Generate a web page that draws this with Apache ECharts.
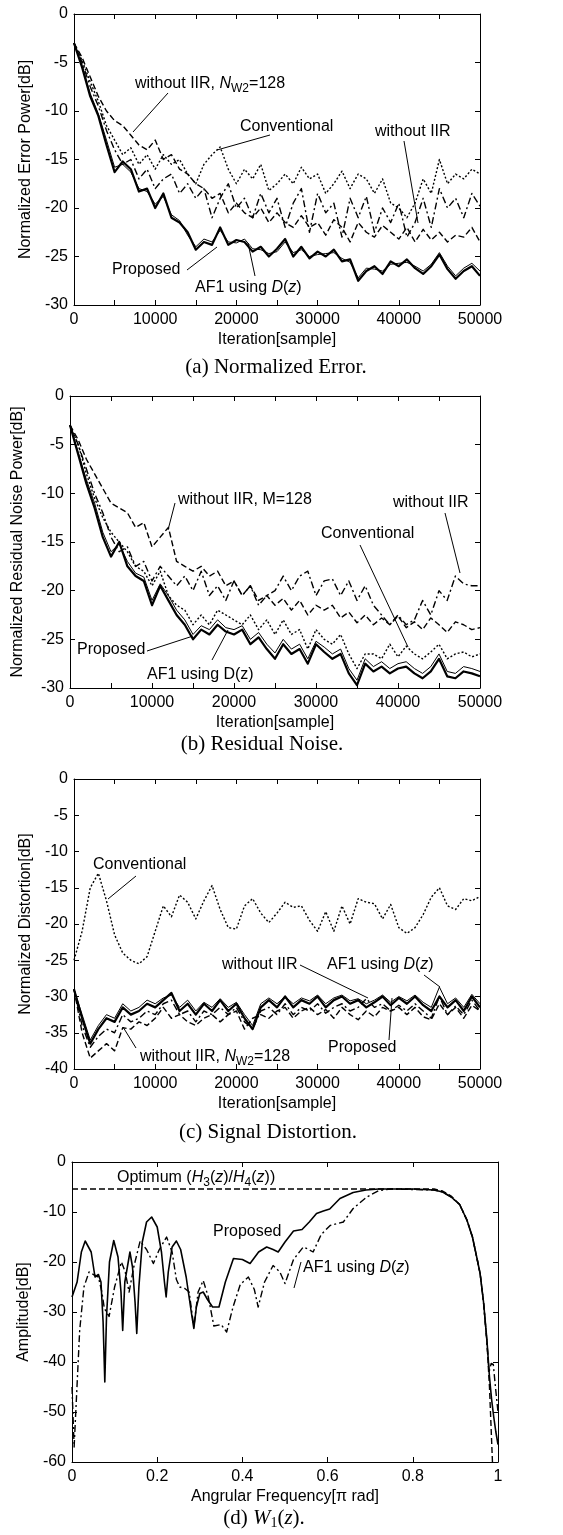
<!DOCTYPE html>
<html><head><meta charset="utf-8">
<script src="https://cdn.jsdelivr.net/npm/echarts@6/dist/echarts.min.js"></script>
<style>html,body{margin:0;padding:0;background:#fff}#c{width:563px;height:1535px}</style>
</head><body><div id="c"></div><script>
// ---------- data ----------
const iteration = [0,1000,2000,3000,4000,5000,6000,7000,8000,9000,10000,11000,12000,13000,14000,15000,16000,17000,18000,19000,20000,21000,22000,23000,24000,25000,26000,27000,28000,29000,30000,31000,32000,33000,34000,35000,36000,37000,38000,39000,40000,41000,42000,43000,44000,45000,46000,47000,48000,49000,50000];

// (a) Normalized error power [dB]
const errProposed = [-3,-5.5,-8.5,-10.5,-13.5,-16.3,-15.2,-16,-18.3,-18,-20,-18.5,-21,-21.5,-22.5,-24.3,-23.5,-23.8,-22,-23.8,-23.3,-23.5,-24.5,-24,-25,-24.2,-23.2,-25,-24,-25.2,-24.5,-25,-24.3,-25.5,-25.3,-27.5,-26.5,-26,-26.8,-25.5,-26,-25.3,-26.2,-26.8,-26,-24.8,-26.3,-27.3,-26.5,-26,-27];
const errAF1 = [-3,-5.3,-8.2,-10.3,-13,-15.8,-15.5,-16.3,-18,-18.3,-19.6,-18.8,-20.7,-21.3,-22.8,-24,-23.2,-23.5,-22.3,-23.5,-23.6,-23.2,-24.2,-24.3,-24.7,-24.5,-23.5,-24.6,-24.3,-25,-24.8,-24.7,-24.6,-25.2,-25.6,-27.2,-26.2,-26.3,-26.5,-25.8,-25.7,-25.6,-26,-26.5,-25.8,-24.6,-26,-27,-26.2,-25.7,-26.5];
const errConventional = [-3,-4.8,-7,-9,-11.5,-13,-14.5,-13.8,-15.5,-14.5,-16,-14.5,-15.5,-15,-16.5,-17.5,-15.5,-14.5,-13.7,-16,-17.5,-16,-17,-15.5,-18.2,-17.5,-16.5,-17.5,-15.8,-17,-16.5,-18.5,-17.5,-16.2,-18,-16.5,-17,-18.5,-17,-19.5,-20,-21,-19.5,-17,-18.5,-15,-17.5,-16.5,-17,-16,-16.5];
const errWithoutIIR = [-3,-5,-7.5,-9.5,-12,-14,-15.5,-15,-17,-16,-18,-17,-16.5,-18.5,-17.5,-19,-18,-21,-19,-17.5,-20,-19,-21,-18.5,-20.5,-19,-22,-19.5,-18,-22.5,-18.5,-20.5,-19.5,-23,-19,-21,-18.8,-22.5,-20,-21.5,-19.5,-23,-21.5,-19,-22,-18,-20,-19,-21,-18.5,-19.8];
const errWithoutIIR128 = [-3,-4.5,-6.5,-8.5,-10,-11,-11.5,-12.5,-13.5,-14,-13,-15,-14.5,-16,-16.5,-17.5,-18,-19,-18.5,-20.5,-19.5,-20.5,-21,-20,-21.5,-20.5,-21.5,-22,-20.8,-22,-21.5,-22.8,-21.2,-22,-23.5,-21.5,-22.5,-23,-21.8,-22.5,-23.2,-22,-23.5,-22.2,-23.3,-22.5,-23.5,-22.8,-23,-22,-23.5];

// (b) Normalized residual noise power [dB]
const resProposed = [-3,-6,-9,-11.5,-14.5,-16.5,-15,-17.5,-18.5,-19,-21.5,-19.5,-21,-22.5,-23.5,-25,-24,-24.5,-23.5,-24.2,-24.5,-24,-25.5,-24.8,-26,-27,-25.5,-26.5,-26,-27.5,-25.5,-26.3,-27,-26.5,-28.5,-29.7,-27.5,-28.3,-27.8,-28.5,-28,-27.8,-28.5,-29,-28.3,-27,-28.8,-29,-28.3,-28.5,-28.8];
const resAF1 = [-3,-5.8,-8.6,-11,-14,-16,-15.2,-17,-18.2,-18.6,-21,-19.3,-20.5,-22,-23,-24.5,-23.6,-24,-23,-23.8,-24,-23.6,-25,-24.3,-25.5,-26.4,-25,-26,-25.5,-27,-25.2,-25.8,-26.5,-26,-28,-29.2,-27,-27.8,-27.3,-28,-27.5,-27.3,-28,-28.5,-27.8,-26.5,-28.3,-28.5,-27.8,-28,-28.3];
const resConventional = [-3,-5,-8,-10.5,-12.5,-14,-15,-16,-17.5,-18,-19.5,-18,-20.5,-21.5,-22,-23.5,-22.5,-23.5,-22,-22.5,-23,-23.5,-22.5,-24,-23,-24.5,-23,-24.5,-24,-26,-24,-25,-25.5,-24.5,-26.5,-28,-26.5,-26.5,-27,-25.5,-26.8,-25.7,-26.5,-27,-26.3,-25.5,-27,-26.5,-26.3,-26.8,-26.5];
const resWithoutIIR = [-3,-5,-7.5,-10,-12,-14.5,-16,-15.5,-17.5,-17,-19,-17.5,-18.5,-19.5,-18.5,-20,-18,-20.5,-19.5,-21,-19,-20.5,-19.5,-21.5,-20.5,-20,-18.5,-20,-18.5,-18,-20.5,-19,-18.8,-20.5,-19,-21,-19.5,-21.5,-22.5,-23.5,-22.5,-23.5,-23,-21,-22.5,-20,-21,-18.5,-19.3,-19.5,-19.5];
const resWithoutIIR128 = [-3,-4.5,-6.5,-8,-9.5,-11,-11.5,-12,-13.5,-13,-15.5,-14.5,-13.5,-17,-17.5,-18,-17.5,-18.5,-18,-19.5,-19,-20.5,-19.5,-21,-20.5,-21.5,-20.8,-22,-21,-22.5,-21.5,-22,-21.5,-22.8,-22.2,-23.3,-22.5,-23.5,-22.8,-23.5,-22.6,-23.8,-23.2,-24,-22.8,-23.5,-24.3,-23.2,-23.5,-24,-23.8];

// (c) Normalized distortion [dB]
const disProposed = [-29,-33,-36.5,-34.5,-33,-33.5,-31.5,-32.5,-32,-31,-31.5,-30.5,-29.5,-32,-31,-32.5,-31,-32,-30.5,-32,-31,-33,-34.5,-31.5,-30.5,-31.5,-30,-31.5,-30.5,-31,-30,-31.5,-30.5,-30,-31,-30.5,-31.5,-30.8,-30,-31.2,-30.2,-31,-30,-31.2,-32,-30,-31.5,-30.5,-32,-30,-31.5];
const disAF1 = [-29,-32.5,-36,-34,-32.5,-33,-31,-32,-31.5,-30.5,-31,-30.2,-29.8,-31.5,-30.5,-32,-30.8,-31.5,-30.3,-31.5,-30.8,-32.5,-34,-31,-30.2,-31,-30,-31,-30.2,-30.6,-29.8,-31,-30.2,-29.8,-30.6,-30.3,-31,-30.5,-29.8,-30.8,-30,-30.6,-29.8,-30.8,-31.5,-28.7,-31,-30.2,-31.5,-29.7,-31];
const disConventional = [-25,-21,-15,-13,-16.8,-21.5,-24,-25,-25.5,-24.5,-21,-17.5,-19,-16,-17,-19.3,-16.8,-14.7,-18,-20.5,-20.7,-17.5,-16.5,-18.5,-19.8,-18.5,-17,-17.7,-17.5,-19.5,-21,-18.3,-21,-17.5,-20,-16.5,-17,-17.2,-19.3,-17.3,-20.5,-21.3,-20.5,-18.7,-16.3,-15,-17.5,-18,-16.5,-16.8,-16.2];
const disWithoutIIR = [-29,-34,-37,-35.5,-34.5,-35,-32.5,-33.5,-33,-32,-32.5,-31,-30.5,-32.5,-32,-33.5,-32,-32.5,-31.5,-32.5,-31.5,-33.5,-34.5,-32,-31.5,-32.5,-31,-32.5,-31.5,-32,-31,-32.3,-31.5,-31,-32,-31.5,-30.3,-31.5,-31,-32,-31.2,-32,-31,-32,-33,-30,-32.5,-31.3,-32.5,-30.5,-32];
const disWithoutIIR128 = [-29,-35,-38.5,-37.5,-36.5,-37.5,-34.3,-34.5,-33.5,-34,-33,-31.5,-33,-32.5,-33.5,-34,-33,-32.5,-33.5,-32.5,-32,-34.5,-33,-32.5,-33,-32,-31.5,-33,-32,-31.5,-32.5,-31.8,-33,-31.5,-32.5,-33.2,-32,-32.8,-31.5,-32,-31.5,-32.5,-31.5,-32.8,-33.2,-31,-32.5,-31.5,-33,-31.2,-32];

// (d) Amplitude of W1(z) [dB] vs angular frequency [pi rad]
const freqProposed = [0,0.012,0.022,0.031,0.045,0.054,0.062,0.068,0.073,0.077,0.081,0.088,0.098,0.108,0.115,0.119,0.124,0.136,0.142,0.148,0.152,0.157,0.165,0.175,0.187,0.2,0.21,0.217,0.221,0.226,0.235,0.245,0.255,0.268,0.28,0.286,0.292,0.3,0.308,0.318,0.33,0.345,0.36,0.379,0.4,0.418,0.438,0.457,0.472,0.484,0.5,0.52,0.54,0.557,0.574,0.59,0.605,0.629,0.66,0.69,0.72,0.8,0.85,0.87,0.89,0.91,0.927,0.94,0.95,0.958,0.966,0.974,0.98,0.985,0.99,0.995,1];
const ampProposed = [-27,-24,-18,-15.8,-18,-23,-22.5,-24,-32,-44,-31,-20,-15.7,-19,-26,-33.7,-24,-18,-21,-28,-34.3,-25,-16,-12,-11,-13,-18,-24,-27,-22,-17,-15.8,-17.5,-23,-30,-33.3,-29,-26.3,-26,-27.5,-29,-29,-24,-19.3,-19.5,-20.3,-18,-17,-17.5,-18,-16,-13.8,-13.5,-12,-10.3,-9.8,-9.4,-7.3,-6.1,-5.6,-5.4,-5.4,-5.6,-6,-7,-8.5,-11.6,-15,-19,-22.3,-28,-35.6,-43,-47.5,-51,-54,-56.5];
const freqAF1 = [0,0.005,0.01,0.018,0.028,0.04,0.05,0.062,0.07,0.076,0.087,0.1,0.116,0.125,0.134,0.145,0.16,0.175,0.191,0.205,0.222,0.235,0.245,0.253,0.265,0.275,0.286,0.296,0.308,0.32,0.333,0.35,0.363,0.378,0.395,0.414,0.428,0.437,0.452,0.472,0.488,0.5,0.52,0.543,0.556,0.566,0.585,0.606,0.637,0.66,0.692,0.72,0.75,0.85,0.87,0.89,0.91,0.927,0.94,0.95,0.958,0.966,0.974,0.979,0.984,0.989,0.994,1];
const ampAF1 = [-45,-57,-48,-33.7,-25,-22,-22.5,-23,-26,-29.3,-30.9,-25,-20,-22,-26,-21,-15.8,-17.5,-20.3,-17.5,-15,-18,-23.5,-25,-25.3,-26,-33,-26,-23.7,-27,-32.8,-32.5,-34,-29,-24.5,-23,-25.5,-29,-24,-20.7,-22,-24.3,-19.5,-17,-17.5,-18,-14.5,-12.7,-12,-9.3,-7,-5.7,-5.4,-5.6,-6,-7,-8.5,-11.6,-15,-19,-22.3,-28,-36,-42,-40.3,-40.5,-45,-50];
const freqOptimum = [0,0.85,0.87,0.89,0.91,0.927,0.94,0.95,0.958,0.966,0.974,0.98,0.987];
const ampOptimum = [-5.4,-5.4,-5.8,-6.8,-8.5,-11.6,-15,-19,-22.3,-28,-36,-45,-60];

const iterTicks = [0,10000,20000,30000,40000,50000];

// ---------- chart ----------
const FONT = 'Liberation Sans';
const chart = echarts.init(document.getElementById('c'), null, {renderer:'canvas'});
const zip = (xs, ys) => xs.map((x,i)=>[x, ys[i]]);

const grids = [
  {left:74, top:14, width:406, height:291},
  {left:70, top:396, width:410, height:292},
  {left:74, top:779, width:406, height:290},
  {left:72, top:1162, width:426, height:300}
];
const lineAx = {show:true, onZero:false, lineStyle:{color:'#000', width:1}};
const tickIn = {show:true, inside:true, length:5, lineStyle:{color:'#000', width:1}};
const lbl = {fontFamily:FONT, fontSize:16, color:'#000'};

const xAxis = [], yAxis = [];
function addAxes(g, xmin, xmax, xint, xfmt, xname, ymin, ymax, yint, yname, ygap){
  xAxis.push({type:'value', gridIndex:g, min:xmin, max:xmax, interval:xint, position:'bottom',
    axisLine:lineAx, axisTick:tickIn, splitLine:{show:false},
    axisLabel:Object.assign({margin:7, formatter:xfmt, showMinLabel:true, showMaxLabel:true}, lbl),
    name:xname, nameLocation:'middle', nameGap:27, nameTextStyle:lbl});
  xAxis.push({type:'value', gridIndex:g, min:xmin, max:xmax, interval:xint, position:'top',
    axisLine:lineAx, axisTick:tickIn, splitLine:{show:false}, axisLabel:{show:false}});
  yAxis.push({type:'value', gridIndex:g, min:ymin, max:ymax, interval:yint, position:'left',
    axisLine:lineAx, axisTick:tickIn, splitLine:{show:false},
    axisLabel:Object.assign({margin:6}, lbl),
    name:yname, nameLocation:'middle', nameGap:ygap, nameRotate:90, nameTextStyle:lbl});
  yAxis.push({type:'value', gridIndex:g, min:ymin, max:ymax, interval:yint, position:'right',
    axisLine:lineAx, axisTick:tickIn, splitLine:{show:false}, axisLabel:{show:false}});
}
const iterFmt = v => iterTicks.indexOf(v) >= 0 ? String(v) : '';
addAxes(0, 0, 50000, 5000, iterFmt, 'Iteration[sample]', -30, 0, 5, 'Normalized Error Power[dB]', 38);
addAxes(1, 0, 50000, 5000, iterFmt, 'Iteration[sample]', -30, 0, 5, 'Normalized Residual Noise Power[dB]', 44);
addAxes(2, 0, 50000, 5000, iterFmt, 'Iteration[sample]', -40, 0, 5, 'Normalized Distortion[dB]', 38);
addAxes(3, 0, 1, 0.2, v => String(+v.toFixed(1)), 'Angrular Frequency[\u03c0 rad]', -60, 0, 10, 'Amplitude[dB]', 38);

const STY = {
  solid:  {type:'solid', width:2.2},
  thin:   {type:'solid', width:1},
  dotted: {type:[2,2], width:1.4},
  dashed: {type:[6,3], width:1.4},
  dashdot:{type:[7,3,2,3], width:1.4}
};
function ser(g, xs, ys, sty, name, z){
  return {type:'line', name:name, xAxisIndex:2*g, yAxisIndex:2*g, data:zip(xs, ys),
    showSymbol:false, symbol:'none', silent:true, z:z||2,
    lineStyle:Object.assign({color:'#000', cap:'butt', join:'round'}, sty)};
}
const series = [
  ser(0, iteration, errConventional, STY.dotted, 'Conventional'),
  ser(0, iteration, errWithoutIIR, STY.dashdot, 'without IIR'),
  ser(0, iteration, errWithoutIIR128, STY.dashed, 'without IIR, NW2=128'),
  ser(0, iteration, errProposed, STY.solid, 'Proposed', 3),
  ser(0, iteration, errAF1, STY.thin, 'AF1 using D(z)', 4),

  ser(1, iteration, resConventional, STY.dotted, 'Conventional'),
  ser(1, iteration, resWithoutIIR, STY.dashdot, 'without IIR'),
  ser(1, iteration, resWithoutIIR128, STY.dashed, 'without IIR, M=128'),
  ser(1, iteration, resProposed, STY.solid, 'Proposed', 3),
  ser(1, iteration, resAF1, STY.thin, 'AF1 using D(z)', 4),

  ser(2, iteration, disConventional, STY.dotted, 'Conventional'),
  ser(2, iteration, disWithoutIIR, STY.dashdot, 'without IIR'),
  ser(2, iteration, disWithoutIIR128, STY.dashed, 'without IIR, NW2=128'),
  ser(2, iteration, disProposed, STY.solid, 'Proposed', 3),
  ser(2, iteration, disAF1, STY.thin, 'AF1 using D(z)', 4),

  ser(3, freqOptimum, ampOptimum, {type:[6,3], width:1.4}, 'Optimum'),
  ser(3, freqAF1, ampAF1, {type:[7,3,2,3], width:1.4}, 'AF1 using D(z)'),
  ser(3, freqProposed, ampProposed, {type:'solid', width:1.6}, 'Proposed', 3)
];

// ---------- annotations ----------
const rich = {
  i:{fontFamily:FONT, fontSize:16, fontStyle:'italic', lineHeight:21},
  s:{fontFamily:FONT, fontSize:12, lineHeight:12, verticalAlign:'bottom'}
};
function txt(x, y, t){
  return {type:'text', x:x, y:y, silent:true, z:100,
    style:{text:t, fontFamily:FONT, fontSize:16, fill:'#000', align:'left', verticalAlign:'middle', lineHeight:21, rich:rich}};
}
function ln(x1, y1, x2, y2){
  return {type:'line', silent:true, z:100, shape:{x1:x1,y1:y1,x2:x2,y2:y2}, style:{stroke:'#000', lineWidth:1}};
}
const capRich = {
  i:{fontFamily:'Liberation Serif', fontSize:21, fontStyle:'italic', lineHeight:25},
  s:{fontFamily:'Liberation Serif', fontSize:14, lineHeight:14, verticalAlign:'bottom'}
};
function cap(x, y, t){
  return {type:'text', x:x, y:y, silent:true, z:100,
    style:{text:t, fontFamily:'Liberation Serif', fontSize:21, fill:'#000', align:'center', verticalAlign:'middle', lineHeight:25, rich:capRich}};
}
const graphic = [
  // (a)
  txt(135, 84, 'without IIR, {i|N}{s|W2}=128'), ln(168,93,133,132),
  txt(240, 127, 'Conventional'), ln(270,135,217,150),
  txt(375, 132, 'without IIR'), ln(404,141,418,223),
  txt(112, 270, 'Proposed'), ln(187,270,217,247),
  txt(195, 288, 'AF1 using {i|D}({i|z})'), ln(255,276,248,243),
  cap(276, 367, '(a) Normalized Error.'),
  // (b)
  txt(178, 500, 'without IIR, M=128'), ln(175,503,168,530),
  txt(393, 503, 'without IIR'), ln(445,513,460,573),
  txt(321, 534, 'Conventional'), ln(360,545,408,647),
  txt(77, 650, 'Proposed'), ln(147,651,193,636),
  txt(147, 675, 'AF1 using D(z)'), ln(212,660,228,630),
  cap(262, 744, '(b) Residual Noise.'),
  // (c)
  txt(93, 865, 'Conventional'), ln(136,876,108,899),
  txt(222, 965, 'without IIR'), ln(300,965,368,998),
  txt(327, 965, 'AF1 using {i|D}({i|z})'), ln(424,975,440,987),
  txt(140, 1057, 'without IIR, {i|N}{s|W2}=128'), ln(136,1048,123,1027),
  txt(328, 1048, 'Proposed'), ln(389,1040,392,998),
  cap(268, 1132, '(c) Signal Distortion.'),
  // (d)
  txt(117, 1178, 'Optimum ({i|H}{s|3}({i|z})/{i|H}{s|4}({i|z}))'),
  txt(213, 1232, 'Proposed'),
  txt(303, 1268, 'AF1 using {i|D}({i|z})'), ln(301,1262,294,1288),
  cap(264, 1518, '(d) {i|W}{s|1}({i|z}).')
];

chart.setOption({
  animation:false,
  backgroundColor:'#fff',
  grid:grids,
  xAxis:xAxis,
  yAxis:yAxis,
  series:series,
  graphic:graphic
});
</script></body></html>
